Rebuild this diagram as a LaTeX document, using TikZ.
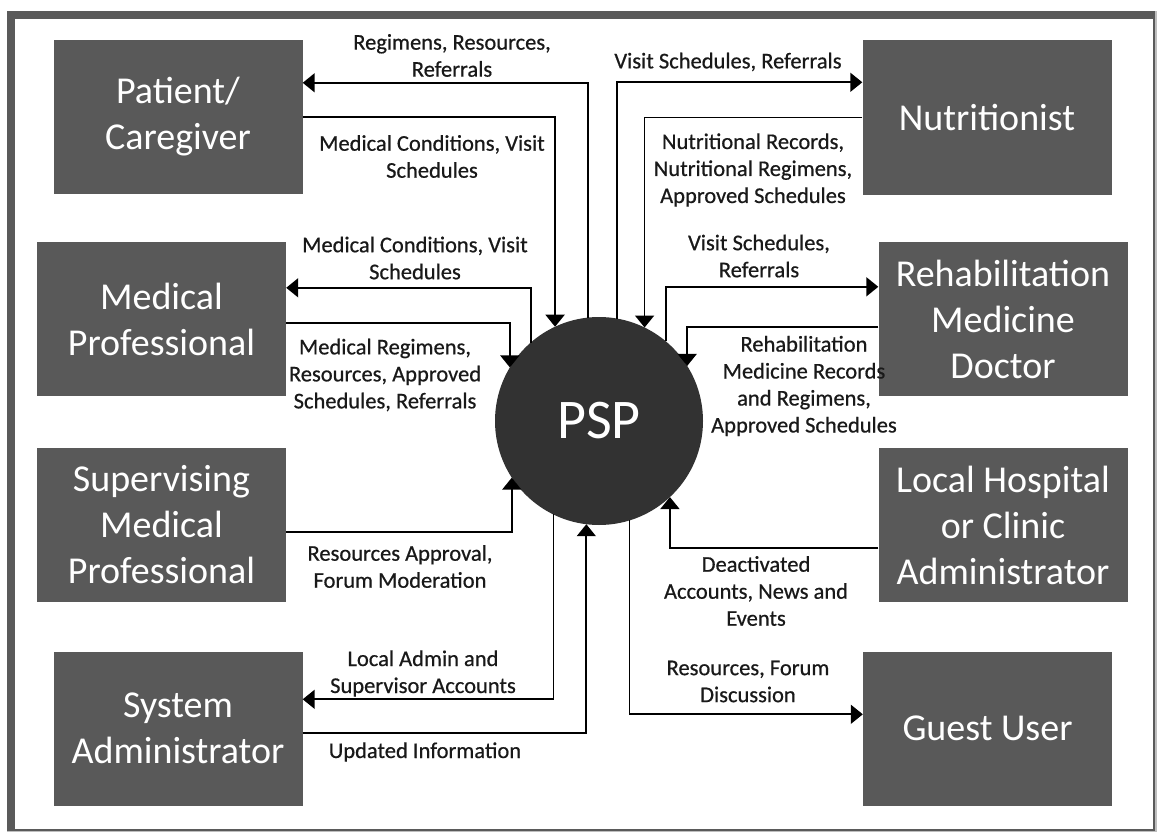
\documentclass[tikz,border=0pt]{standalone}
\usepackage{fontspec}
\setmainfont{Carlito}
\newfontfamily\flowfamily[FakeBold=0.6]{Carlito}
\usetikzlibrary{arrows.meta}

\definecolor{boxgray}{RGB}{89,89,89}
\definecolor{hubgray}{RGB}{50,50,50}
\definecolor{framegray}{RGB}{90,90,90}
\definecolor{shadegray}{RGB}{190,190,190}
\definecolor{inkgray}{RGB}{25,25,25}

\newcommand{\boxfont}{\fontsize{38}{46}\selectfont}
\newcommand{\flowfont}{\flowfamily\fontsize{22.5}{27}\selectfont}

\tikzset{
  actor/.style={rectangle, fill=boxgray, text=white, draw=none,
    minimum width=249pt, minimum height=154pt, inner sep=0pt,
    font=\boxfont, align=center},
  hub/.style={circle, fill=hubgray, text=white, draw=none,
    minimum size=208pt, inner sep=0pt, outer sep=0pt,
    font=\fontsize{56}{60}\selectfont},
  flowlabel/.style={font=\flowfont, align=center, text=inkgray, inner sep=0pt},
  flow/.style={draw=black, line width=1.7pt,
    -{Triangle[length=12pt,width=19pt]}}
}

\begin{document}
\begin{tikzpicture}[x=1pt,y=-1pt]
\useasboundingbox (0,0) rectangle (1157,832);

% outer frame
\fill[shadegray] (7,11) rectangle (1157,832);
\fill[framegray] (7,11) rectangle (1154.5,830.5);
\fill[white] (15,19) rectangle (1152.5,829);

% central process
\node[hub] (psp) at (599,421) {PSP};

% external entities, left column
\node[actor] (patient)  at (178,117)   {Patient/\\Caregiver};
\node[actor] (medprof)  at (161.5,319) {Medical\\Professional};
\node[actor] (supmed)   at (161.5,525) {Supervising\\Medical\\Professional};
\node[actor] (sysadmin) at (178,728.5) {System\\Administrator};

% external entities, right column
\node[actor] (nutri) at (987,117.5)  {Nutritionist};
\node[actor] (rehab) at (1003,319)   {Rehabilitation\\Medicine\\Doctor};
\node[actor] (local) at (1003,525)   {Local Hospital\\or Clinic\\Administrator};
\node[actor] (guest) at (987.5,728.5) {Guest User};

% data flows
\draw[flow] (psp.96.6) |- ([yshift=-43pt]patient.north east);
\draw[flow] (patient.east) -| (psp.115);
\draw[flow] (psp.80.6) |- ([yshift=-42pt]nutri.north west);
\draw[flow] (nutri.west) -| (psp.64.4);

\draw[flow] (psp.131.6) |- ([yshift=-46pt]medprof.north east);
\draw[flow] ([yshift=-4pt]medprof.east) -| (psp.149.9);
\draw[flow] (psp.50.6) |- ([yshift=-45pt]rehab.north west);
\draw[flow] ([yshift=-8pt]rehab.west) -| (psp.32.2);

\draw[flow] ([yshift=-7pt]supmed.east) -| (psp.213.2);
\draw[flow] ([yshift=-23pt]local.west) -| (psp.313.8);

\draw[flow] (psp.244.4) |- ([yshift=-48pt]sysadmin.north east);
\draw[flow] ([yshift=-4.5pt]sysadmin.east) -| (psp.263.4);
\draw[flow] (psp.287.3) |- ([yshift=-63pt]guest.north west);

% flow labels
\node[flowlabel] (l1)  at (452,55.5)  {Regimens, Resources,\\Referrals};
\node[flowlabel] (l2)  at (432,156.5) {Medical Conditions, Visit\\Schedules};
\node[flowlabel] (l3)  at (728,62)    {Visit Schedules, Referrals};
\node[flowlabel] (l4)  at (753,170)   {Nutritional Records,\\Nutritional Regimens,\\Approved Schedules};
\node[flowlabel] (l5)  at (415,258)   {Medical Conditions, Visit\\Schedules};
\node[flowlabel] (l6)  at (385,375)   {Medical Regimens,\\Resources, Approved\\Schedules, Referrals};
\node[flowlabel] (l7)  at (759,256)   {Visit Schedules,\\Referrals};
\node[flowlabel] (l8)  at (804,386)   {Rehabilitation\\Medicine Records\\and Regimens,\\Approved Schedules};
\node[flowlabel] (l9)  at (400,566.5) {Resources Approval,\\Forum Moderation};
\node[flowlabel] (l10) at (423,673.5) {Local Admin and\\Supervisor Accounts};
\node[flowlabel] (l11) at (425,752)   {Updated Information};
\node[flowlabel] (l12) at (756,591)   {Deactivated\\Accounts, News and\\Events};
\node[flowlabel] (l13) at (748,681.5) {Resources, Forum\\Discussion};
\end{tikzpicture}
\end{document}
